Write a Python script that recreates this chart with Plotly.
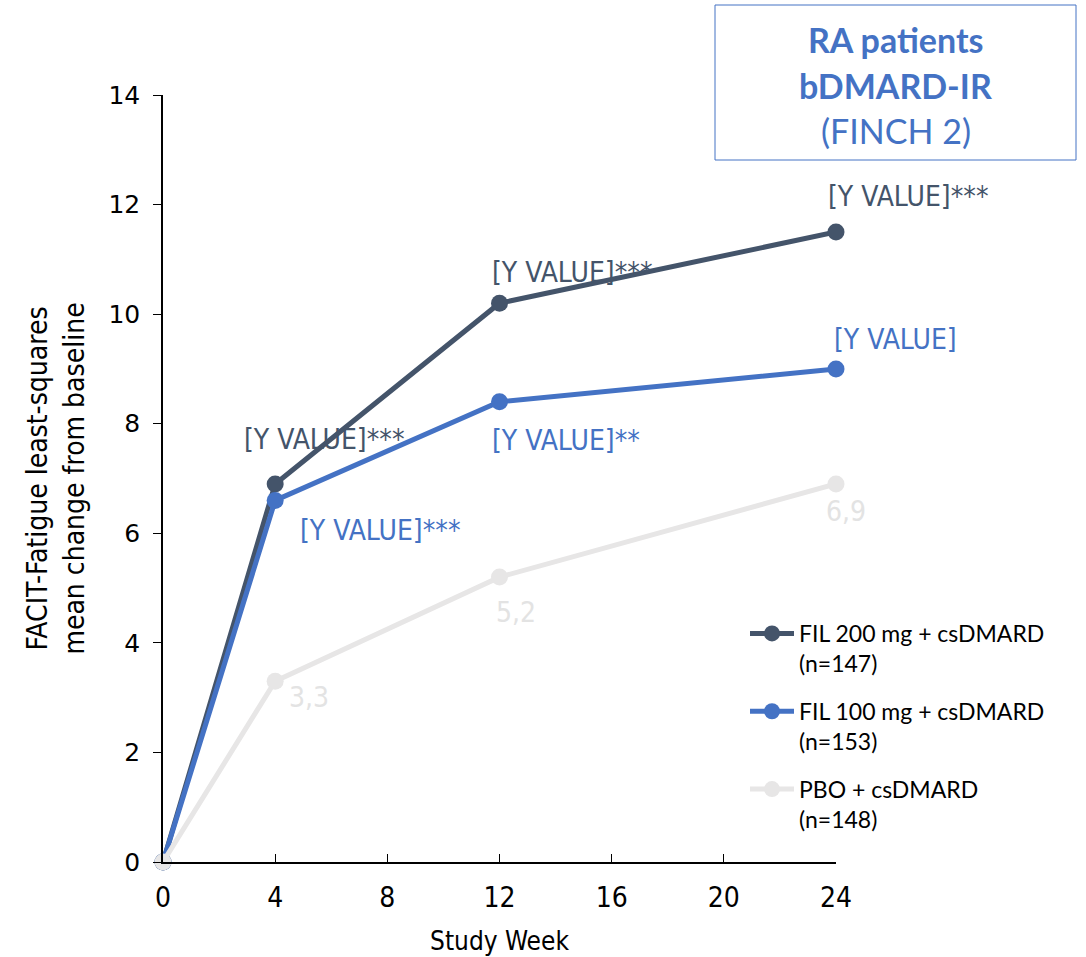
import plotly.graph_objects as go

# Study weeks and FACIT-Fatigue LS mean change from baseline
weeks = [0, 4, 12, 24]
fil200 = [0, 6.9, 10.2, 11.5]
fil100 = [0, 6.6, 8.4, 9.0]
pbo = [0, 3.3, 5.2, 6.9]

series_names = [
    "FIL 200 mg + csDMARD<br>(n=147)",
    "FIL 100 mg + csDMARD<br>(n=153)",
    "PBO + csDMARD<br>(n=148)",
]
series_colors = ["#44546A", "#4472C4", "#E7E6E6"]
label_colors = ["#44546A", "#4472C4", "#E3E3E3"]

# Point labels (index 0 = baseline is unlabelled)
fil200_labels = ["", "[Y VALUE]***", "[Y VALUE]***", "[Y VALUE]***"]
fil100_labels = ["", "[Y VALUE]***", "[Y VALUE]**", "[Y VALUE]"]
pbo_labels = ["", "3,3", "5,2", "6,9"]

x_ticks = [0, 4, 8, 12, 16, 20, 24]
y_ticks = [0, 2, 4, 6, 8, 10, 12, 14]

box_lines = ["<b>RA patients</b>", "<b>bDMARD-IR</b>", "(FINCH 2)"]

label_font = "DejaVu Sans Condensed"
W, H = 1086, 957
L, R, T, B = 163, 250, 95, 95

fig = go.Figure()
for name, ys, col in zip(series_names, [fil200, fil100, pbo], series_colors):
    fig.add_trace(go.Scatter(
        x=weeks, y=ys, name=name, mode="lines+markers",
        line=dict(color=col, width=5),
        marker=dict(color=col, size=17),
        cliponaxis=False, legendgroup=name,
        hoverinfo="x+y",
    ))

# label offsets from the point centre in pixels (right, up)
offsets = {
    0: [None, (49, 44), (72, 31), (72, 35)],
    1: [None, (105, -30), (66, -39), (59, 29)],
    2: [None, (34, -16), (16, -35), (10, -28)],
}
for si, (ys, labs) in enumerate(zip([fil200, fil100, pbo],
                                     [fil200_labels, fil100_labels, pbo_labels])):
    for i, (xv, yv, txt) in enumerate(zip(weeks, ys, labs)):
        if not txt:
            continue
        dx, dy = offsets[si][i]
        fig.add_annotation(
            x=xv, y=yv, xref="x", yref="y", text=txt, showarrow=False,
            xanchor="center", yanchor="middle", xshift=dx, yshift=dy,
            font=dict(family=label_font, size=28, color=label_colors[si]),
        )

# title box in the upper right
def px_x(p):
    return (p - L) / (W - L - R)

def px_y(p):
    return (H - B - p) / (H - T - B)

fig.add_shape(type="rect", xref="paper", yref="paper",
              x0=px_x(715), x1=px_x(1076), y0=px_y(160), y1=px_y(5),
              line=dict(color="#4472C4", width=1), fillcolor="rgba(0,0,0,0)")
for text, yp in zip(box_lines, [40, 85, 130]):
    fig.add_annotation(x=px_x(896), y=px_y(yp), xref="paper", yref="paper",
                       text=text, showarrow=False, xanchor="center", yanchor="middle",
                       font=dict(family="Lato", size=34, color="#4472C4"))

fig.update_layout(
    width=W, height=H,
    margin=dict(l=L, r=R, t=T, b=B, autoexpand=False),
    paper_bgcolor="white", plot_bgcolor="white",
    showlegend=True,
    legend=dict(
        x=px_x(745), y=px_y(612), xanchor="left", yanchor="top",
        font=dict(family="Lato", size=23, color="#000000"),
        valign="top", traceorder="grouped", tracegroupgap=15,
        bgcolor="rgba(0,0,0,0)", itemwidth=44,
    ),
    xaxis=dict(
        range=[0, 24], tickvals=x_ticks, showgrid=False, zeroline=False,
        showline=True, linecolor="#000000", linewidth=1.5,
        ticks="inside", ticklen=8, tickcolor="#000000",
        ticklabelstandoff=10, automargin=False,
        tickfont=dict(family=label_font, size=28, color="#000000"),
        title=dict(text="Study Week", standoff=18,
                   font=dict(family=label_font, size=26, color="#000000")),
    ),
    yaxis=dict(
        range=[0, 14], tickvals=y_ticks, showgrid=False, zeroline=False,
        showline=True, linecolor="#000000", linewidth=1.5,
        ticks="outside", ticklen=8, tickcolor="#000000",
        ticklabelstandoff=8, automargin=False,
        tickfont=dict(family="DejaVu Sans", size=25, color="#000000"),
        title=dict(text="FACIT-Fatigue least-squares<br>mean change from baseline",
                   standoff=16,
                   font=dict(family=label_font, size=28, color="#000000")),
    ),
)

fig.write_html("out.html")
